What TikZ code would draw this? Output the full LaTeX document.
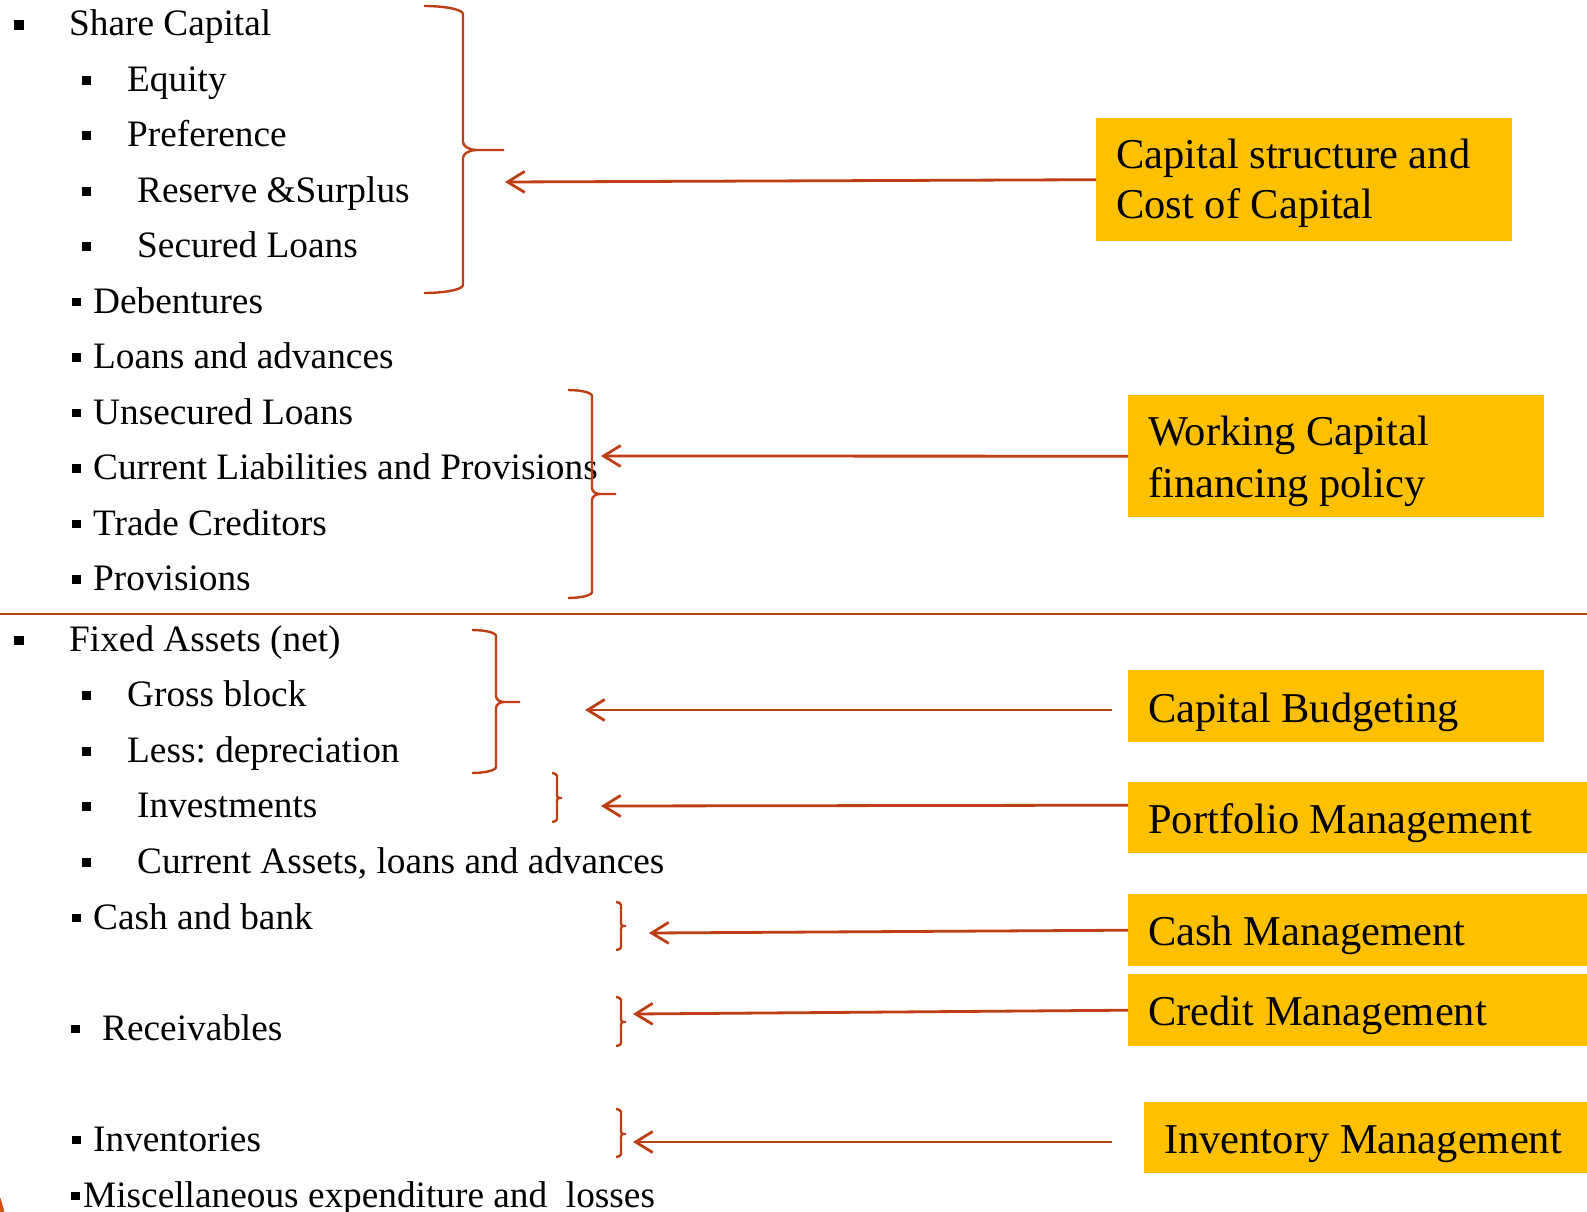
\documentclass[tikz,border=0pt]{standalone}
\usepackage{fontspec}
\setmainfont{Liberation Serif}
\usetikzlibrary{arrows.meta}
\definecolor{rust}{RGB}{190,62,22}
\definecolor{gold}{RGB}{255,192,0}
\definecolor{flame}{RGB}{214,80,20}
\frenchspacing

% right curly brace: #1 end x, #2 spine x, #3 tip x, #4 top y, #5 tip y, #6 bottom y,
% #7 vertical bend radius, #8 horizontal bend at the tip
\newcommand\drawbrace[8]{%
  \draw[brace] (#1,#4) .. controls ({#1+0.55*(#2-#1)},#4) and (#2,{#4+0.45*#7}) .. (#2,{#4+#7})
    -- (#2,{#5-#7}) .. controls (#2,{#5-0.45*#7}) and ({#2+0.45*#8},#5) .. ({#2+#8},#5) -- (#3,#5)
    (#3,#5) -- ({#2+#8},#5) .. controls ({#2+0.45*#8},#5) and (#2,{#5+0.45*#7}) .. (#2,{#5+#7})
    -- (#2,{#6-#7}) .. controls (#2,{#6-0.45*#7}) and ({#1+0.55*(#2-#1)},#6) .. (#1,#6);}
% square bullet: #1 left x, #2 baseline of its line, #3 size
\newcommand\bul[3]{\fill (#1,{#2-15.5}) rectangle ++(#3,#3);}

\tikzset{
  item/.style={anchor=base west, inner sep=0pt, font=\fontsize{37.3}{44}\selectfont},
  tag/.style={fill=gold, inner sep=0pt, anchor=north west},
  tagtext/.style={anchor=base west, inner sep=0pt, font=\fontsize{42.5}{51}\selectfont},
  brace/.style={rust, line width=2.4pt, line join=round},
  conn/.style={rust, line width=2.8pt, -{Straight Barb[length=17pt, width=21pt, line width=2.8pt]}},
}

\begin{document}
\begin{tikzpicture}[x=1pt, y=-1pt]
\useasboundingbox (0,0) rectangle (1587,1212);
\clip (0,0) rectangle (1587,1212);

% slide ornament in the lower left corner
\fill[flame] (-140,1245) circle (148pt);

% ---------- liabilities ----------
\bul{14}{36}{9.5}     \node[item] (sc)  at (69,36)     {Share Capital};
\bul{81.5}{91.45}{9}  \node[item] (eq)  at (127,91.45) {Equity};
\bul{81.5}{146.9}{9}  \node[item] (pr)  at (127,146.9) {Preference};
\bul{81.5}{202.35}{9} \node[item] (rs)  at (137,202.35) {Reserve \&Surplus};
\bul{81.5}{257.8}{9}  \node[item] (sl)  at (137,257.8) {Secured Loans};
\bul{72}{313.25}{8.5} \node[item] (deb) at (93,313.25) {Debentures};
\bul{72}{368.7}{8.5}  \node[item] (la)  at (93,368.7)  {Loans and advances};
\bul{72}{424.15}{8.5} \node[item] (ul)  at (93,424.15) {Unsecured Loans};
\bul{72}{479.6}{8.5}  \node[item] (cl)  at (93,479.6)  {Current Liabilities and Provisions};
\bul{72}{535.05}{8.5} \node[item] (tc)  at (93,535.05) {Trade Creditors};
\bul{72}{590.5}{8.5}  \node[item] (pv)  at (93,590.5)  {Provisions};

% separator between liabilities and assets
\draw[rust, line width=2.5pt] (0,614) -- (1587,614);

% ---------- assets ----------
\bul{14}{651}{9.5}    \node[item] (fa)  at (69,651)     {Fixed Assets (net)};
\bul{81.5}{706.6}{9}  \node[item] (gb)  at (127,706.6)  {Gross block};
\bul{81.5}{762.2}{9}  \node[item] (ld)  at (127,762.2)  {Less: depreciation};
\bul{81.5}{817.8}{9}  \node[item] (inv) at (137,817.8)  {Investments};
\bul{81.5}{873.4}{9}  \node[item] (ca)  at (137,873.4)  {Current Assets, loans and advances};
\bul{72}{929}{8.5}    \node[item] (cb)  at (93,929)     {Cash and bank};
\bul{71}{1040.2}{8.5} \node[item] (rc)  at (102,1040.2) {Receivables};
\bul{72}{1151.4}{8.5} \node[item] (it)  at (93,1151.4)  {Inventories};
\bul{71}{1207}{8.5}   \node[item] (me)  at (83,1207)    {Miscellaneous expenditure and\ \ losses};

% ---------- braces ----------
\drawbrace{424}{463}{504}{6}{150}{293}{8}{14}
\drawbrace{568}{592}{616}{390}{494}{598}{6}{8}
\drawbrace{472}{496}{520}{630}{702}{773}{6}{8}
\drawbrace{552}{557}{562}{773}{798}{822}{3}{2}
\drawbrace{616}{621}{626}{902}{926}{950}{3}{2}
\drawbrace{616}{621}{626}{997}{1022}{1046}{3}{2}
\drawbrace{616}{621}{626}{1109}{1134}{1157}{3}{2}

% ---------- decision areas (multi-line labels sit on their last baseline) ----------
\node[tag, minimum width=416pt, minimum height=123pt] (box1) at (1096,118) {};
\node[tagtext, align=left, font=\fontsize{42.5}{50}\selectfont] (lab1) at (1116,218) {Capital structure and\\Cost of Capital};
\node[tag, minimum width=416pt, minimum height=122pt] (box2) at (1128,395) {};
\node[tagtext, align=left, font=\fontsize{42.5}{52}\selectfont] (lab2) at (1148,497) {Working Capital\\financing policy};
\node[tag, minimum width=416pt, minimum height=72pt] (box3) at (1128,670) {};
\node[tagtext] (lab3) at (1148,722) {Capital Budgeting};
\node[tag, minimum width=472pt, minimum height=71pt] (box4) at (1128,782) {};
\node[tagtext] (lab4) at (1148,833) {Portfolio Management};
\node[tag, minimum width=472pt, minimum height=72pt] (box5) at (1128,894) {};
\node[tagtext] (lab5) at (1148,945) {Cash Management};
\node[tag, minimum width=472pt, minimum height=72pt] (box6) at (1128,974) {};
\node[tagtext] (lab6) at (1148,1025) {Credit Management};
\node[tag, minimum width=456pt, minimum height=71pt] (box7) at (1144,1102) {};
\node[tagtext] (lab7) at (1164,1153) {Inventory Management};

% ---------- connectors ----------
\coordinate (t1) at (505,182);
\coordinate (t2) at (601,456);
\coordinate (s3) at (1112,710);
\coordinate (t3) at (585,710);
\coordinate (t4) at (601,806);
\coordinate (t5) at (649,933);
\coordinate (t6) at (633,1014);
\coordinate (s7) at (1112,1142);
\coordinate (t7) at (633,1142);

\draw[conn] (box1.west) -- (t1);
\draw[conn] (box2.west) -- (t2);
\draw[conn] (s3) -- (t3);
\draw[conn] ([yshift=12.5pt]box4.west) -- (t4);
\draw[conn] (box5.west) -- (t5);
\draw[conn] (box6.west) -- (t6);
\draw[conn] (s7) -- (t7);
\end{tikzpicture}
\end{document}
